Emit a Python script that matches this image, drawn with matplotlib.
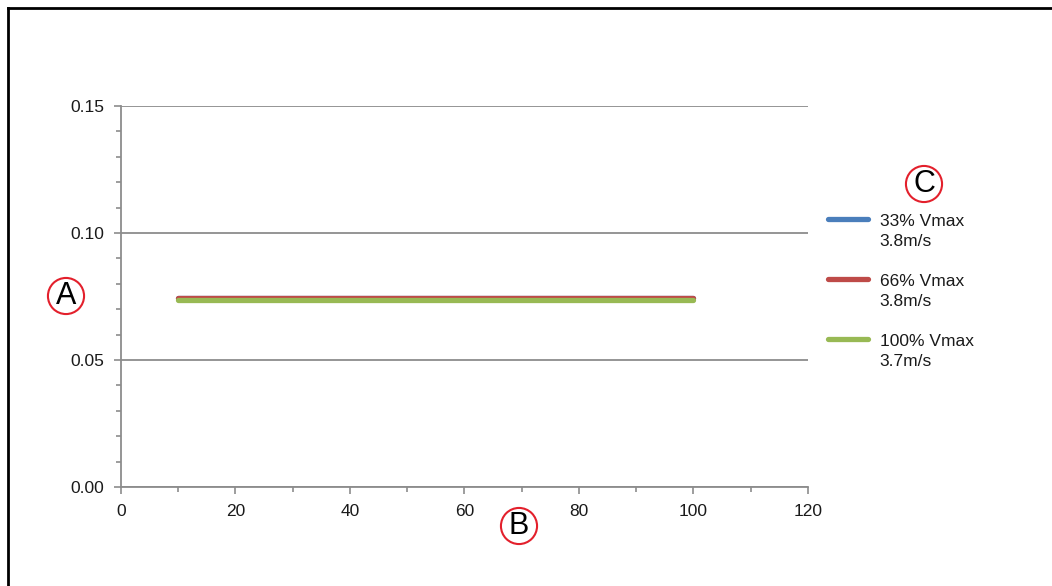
import matplotlib.pyplot as plt
from matplotlib.lines import Line2D
from matplotlib.legend_handler import HandlerLine2D
from matplotlib.ticker import MultipleLocator
import numpy as np

plt.rcParams['font.family'] = ['Liberation Sans', 'DejaVu Sans']

x = [10, 20, 30, 40, 50, 60, 70, 80, 90, 100]
v33 = [0.0745] * 10
v66 = [0.0744] * 10
v100 = [0.0735] * 10
labels = ['33% Vmax\n3.8m/s', '66% Vmax\n3.8m/s', '100% Vmax\n3.7m/s']
colors = ['#4a7ebb', '#be4b48', '#98b954']


class TopLine(HandlerLine2D):
    # put the legend line next to the first text row
    def create_artists(self, legend, orig_handle, xdescent, ydescent,
                       width, height, fontsize, trans):
        arts = super().create_artists(legend, orig_handle, xdescent, ydescent,
                                      width, height, fontsize, trans)
        for a in arts:
            a.set_ydata(np.asarray(a.get_ydata()) + 0.72 * fontsize)
        return arts


fig = plt.figure(figsize=(10.52, 5.86), dpi=100)
ax = fig.add_axes([0.115, 0.169, 0.653, 0.650])

for ys, c, lab in zip([v33, v66, v100], colors, labels):
    ax.plot(x, ys, color=c, lw=3.8, solid_capstyle='round', label=lab)

ax.set_xlim(0, 120)
ax.set_ylim(0, 0.15)
ax.xaxis.set_major_locator(MultipleLocator(20))
ax.xaxis.set_minor_locator(MultipleLocator(10))
ax.yaxis.set_major_locator(MultipleLocator(0.05))
ax.yaxis.set_minor_locator(MultipleLocator(0.01))
ax.yaxis.set_major_formatter(plt.FormatStrFormatter('%.2f'))
ax.grid(axis='y', which='major', color='#8c8c8c', lw=1.3)
ax.set_axisbelow(True)
for s in ['top', 'right']:
    ax.spines[s].set_visible(False)
for s in ['left', 'bottom']:
    ax.spines[s].set_color('#8c8c8c')
    ax.spines[s].set_linewidth(1.3)
ax.tick_params(which='major', direction='out', length=5, width=1.2,
               color='#8c8c8c', labelsize=12.5, labelcolor='#1a1a1a', pad=7)
ax.tick_params(which='minor', direction='out', length=3.5, width=1.2,
               color='#8c8c8c')

leg = ax.legend(loc='upper left', bbox_to_anchor=(1.007, 0.758), frameon=False,
                fontsize=12.5, handlelength=2.3, handletextpad=0.65,
                labelspacing=1.42, labelcolor='#1a1a1a',
                handler_map={Line2D: TopLine()})
for t in leg.get_texts():
    t.set_linespacing(1.45)

circ = dict(boxstyle='circle,pad=0.1', ec='#e3202c', fc='white', lw=1.5)
fig.text(66 / 1052, 1 - 296 / 586, 'A', fontsize=22, ha='center', va='center', bbox=circ)
fig.text(519 / 1052, 1 - 526 / 586, 'B', fontsize=22, ha='center', va='center', bbox=circ)
fig.text(924 / 1052, 1 - 184 / 586, 'C', fontsize=22, ha='center', va='center', bbox=circ)

# outer frame (top and left)
fig.add_artist(Line2D([8 / 1052, 1], [1 - 8 / 586, 1 - 8 / 586], color='black', lw=2,
                      transform=fig.transFigure))
fig.add_artist(Line2D([8 / 1052, 8 / 1052], [0, 1 - 8 / 586], color='black', lw=2,
                      transform=fig.transFigure))

fig.savefig('out.png', dpi=100)
